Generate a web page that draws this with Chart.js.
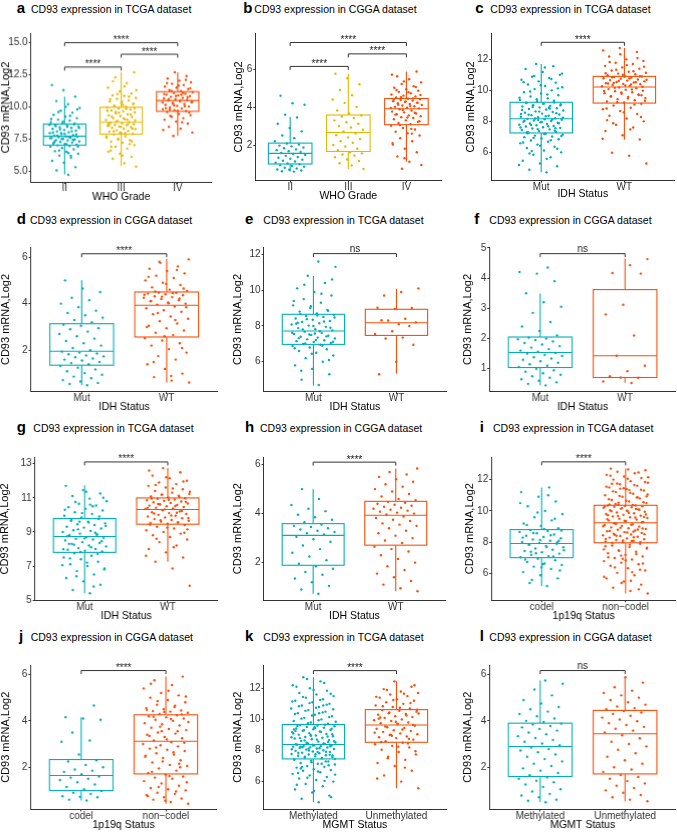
<!DOCTYPE html>
<html>
<head>
<meta charset="utf-8">
<script src="https://cdn.jsdelivr.net/npm/chart.js@4.4.1/dist/chart.umd.min.js"></script>
<style>
body{margin:0;background:#fff;width:677px;height:832px;overflow:hidden;position:relative;font-family:"Liberation Sans",Arial,sans-serif}
.box{position:absolute}
.lt{position:absolute;font-weight:bold;font-size:15px;line-height:15px;color:#000}
.tt{position:absolute;font-size:10.5px;line-height:12px;color:#000;white-space:nowrap}
</style>
</head>
<body>
<script>
// ---- data ----
// box stats per group: [lower whisker, q1, median, q3, upper whisker]
const catsA = ['II', 'III', 'IV'];
const boxA = [[4.73, 7.01, 7.71, 8.66, 10.8], [5.38, 7.87, 8.79, 9.97, 12.72], [7.74, 9.65, 10.49, 11.18, 12.7]];
const ptsA = [
  [4.7,5.05,5.3,5.65,5.8,6.05,6.2,6.35,6.5,6.55,6.7,6.8,6.9,6.95,7.0,7.05,7.12,7.15,7.22,7.26,7.3,7.38,7.41,7.46,7.5,7.57,7.6,7.63,7.67,7.7,7.76,7.8,7.88,7.95,8.02,8.08,8.15,8.2,8.28,8.36,8.41,8.48,8.55,8.6,8.64,8.72,8.8,8.93,9.0,9.12,9.24,9.38,9.55,9.7,9.92,10.2,10.45,10.8,11.3,11.7,
   6.2,6.6,6.9,7.1,7.3,7.4,7.5,7.55,7.65,7.75,7.85,7.9,8.0,8.1,8.25,8.35,8.45,8.5,8.7,8.85,9.05,9.3,9.6,9.8,10.0,7.2,7.45,7.95,8.6,6.4],
  [5.35,5.6,5.95,6.1,6.35,6.5,6.75,6.9,7.02,7.2,7.28,7.4,7.52,7.6,7.72,7.85,7.9,7.98,8.06,8.12,8.18,8.26,8.3,8.37,8.42,8.46,8.52,8.57,8.6,8.66,8.71,8.76,8.82,8.9,8.98,9.05,9.12,9.2,9.28,9.35,9.42,9.5,9.58,9.66,9.72,9.8,9.88,9.95,10.02,10.1,10.22,10.3,10.42,10.5,10.62,10.7,10.85,10.9,11.05,11.2,11.5,11.85,12.3,12.7,
   6.2,6.6,7.1,7.45,7.7,7.95,8.1,8.3,8.45,8.55,8.65,8.85,8.95,9.1,9.25,9.4,9.55,9.7,9.85,10.05,10.25,10.4,10.6,10.8,11.0,11.3,11.6,12.0,7.3,8.0,8.7,9.0,9.6,9.9,10.15,6.9],
  [7.74,8.0,8.3,8.45,8.7,8.85,9.0,9.12,9.22,9.35,9.45,9.6,9.68,9.74,9.82,9.88,9.96,10.02,10.08,10.16,10.22,10.3,10.36,10.44,10.5,10.54,10.6,10.66,10.7,10.78,10.84,10.9,10.96,11.02,11.08,11.15,11.22,11.3,11.38,11.5,11.58,11.7,11.8,11.92,12.05,12.2,12.4,12.7,
   8.2,8.8,9.3,9.55,9.7,9.9,10.05,10.25,10.4,10.5,10.6,10.75,10.85,11.0,11.1,11.25,11.45,11.65,11.85,12.1,10.1,10.35,10.95,9.8]
];
const sigA = [[1, 2, 13.1, '****'], [2, 3, 14.1, '****'], [1, 3, 15.0, '****']];
const yTicksA = [5, 7.5, 10, 12.5, 15];
const yLimA = [4.15, 15.75];

const catsB = ['II', 'III', 'IV'];
const boxB = [[0.6, 1.0, 1.56, 2.1, 3.47], [0.74, 1.66, 2.66, 3.58, 5.75], [1.12, 3.07, 3.91, 4.45, 5.87]];
const ptsB = [
  [0.6,0.62,0.66,0.7,0.71,0.76,0.8,0.86,0.9,0.94,0.98,1.03,1.07,1.13,1.17,1.23,1.27,1.33,1.37,1.43,1.47,1.53,1.58,1.63,1.67,1.73,1.77,1.83,1.87,1.93,1.97,2.03,2.08,2.2,2.36,2.5,2.72,2.9,3.12,3.45,3.6,4.12,4.2,4.6],
  [0.74,0.92,1.04,1.16,1.24,1.36,1.44,1.5,1.56,1.62,1.72,1.8,1.92,2.0,2.12,2.2,2.32,2.4,2.52,2.6,2.72,2.8,2.92,3.0,3.12,3.2,3.3,3.42,3.5,3.56,3.66,3.82,4.0,4.22,4.4,4.62,4.9,5.2,5.52,5.75],
  [0.75,0.95,1.12,1.4,1.62,1.8,2.02,2.2,2.36,2.5,2.62,2.7,2.82,2.9,3.02,3.1,3.16,3.22,3.3,3.36,3.42,3.46,3.52,3.56,3.62,3.66,3.72,3.76,3.82,3.88,3.93,3.96,4.01,4.04,4.08,4.11,4.16,4.2,4.23,4.27,4.31,4.34,4.37,4.41,4.44,4.5,4.56,4.6,4.66,4.72,4.8,4.86,4.94,5.02,5.1,5.22,5.3,5.46,5.62,5.87,
   1.3,2.1,2.6,3.05,3.25,3.45,3.6,3.7,3.85,3.95,4.05,4.12,4.22,4.3,4.38,4.45,4.52,4.64,4.78,4.9,5.05,5.35,5.7,2.85]
];
const sigB = [[1, 2, 6.14, '****'], [2, 3, 6.8, '****'], [1, 3, 7.4, '****']];
const yTicksB = [2, 4, 6];
const yLimB = [0.12, 7.9];

const catsC = ['Mut', 'WT'];
const boxC = [[4.73, 7.27, 8.19, 9.25, 11.72], [6.84, 9.2, 10.24, 10.92, 12.75]];
const ptsC = [
  [4.73,4.9,5.12,5.3,5.48,5.7,5.86,6.02,6.14,6.3,6.38,6.52,6.6,6.7,6.78,6.86,6.92,7.0,7.04,7.1,7.16,7.22,7.3,7.34,7.4,7.46,7.5,7.56,7.6,7.64,7.69,7.72,7.77,7.8,7.85,7.88,7.93,7.96,8.0,8.05,8.08,8.12,8.15,8.18,8.22,8.28,8.32,8.38,8.42,8.46,8.52,8.58,8.62,8.66,8.72,8.78,8.82,8.86,8.92,8.98,9.02,9.06,9.12,9.16,9.2,9.24,9.32,9.4,9.5,9.62,9.7,9.82,9.9,10.02,10.1,10.22,10.3,10.4,10.52,10.6,10.7,10.82,10.9,11.02,11.2,11.4,11.58,11.72,
   5.2,5.6,5.95,6.25,6.45,6.65,6.8,6.95,7.08,7.2,7.32,7.42,7.52,7.62,7.7,7.78,7.9,7.98,8.06,8.14,8.2,8.25,8.35,8.45,8.55,8.65,8.75,8.85,8.95,9.05,9.15,9.22,9.35,9.45,9.55,9.75,9.95,10.15,10.35,10.55,10.75,10.95,11.1,11.5,7.25,7.58,8.1,8.5,8.9,6.1],
  [5.3,5.8,6.0,6.85,7.12,7.4,7.62,7.8,8.02,8.2,8.38,8.5,8.68,8.8,8.9,9.04,9.15,9.24,9.3,9.38,9.45,9.52,9.6,9.64,9.72,9.8,9.84,9.9,9.96,10.0,10.06,10.1,10.16,10.21,10.28,10.31,10.36,10.41,10.44,10.48,10.53,10.56,10.6,10.65,10.68,10.72,10.77,10.8,10.84,10.88,10.91,10.95,11.0,11.06,11.1,11.16,11.22,11.3,11.42,11.5,11.6,11.72,11.8,11.92,12.02,12.2,12.5,12.75,
   6.9,7.5,7.9,8.3,8.6,8.85,9.1,9.25,9.35,9.5,9.62,9.75,9.88,9.98,10.08,10.18,10.25,10.34,10.46,10.55,10.62,10.7,10.78,10.86,10.93,11.03,11.12,11.25,11.35,11.55,11.65,11.85,12.1,12.35,12.6,10.4,10.5,9.7,10.9,8.1]
];
const sigC = [[1, 2, 13.12, '****']];
const yTicksC = [6, 8, 10, 12];
const yLimC = [4.19, 13.72];

const catsD = ['Mut', 'WT'];
const boxD = [[0.5, 1.36, 1.96, 3.14, 5.0], [0.62, 2.57, 3.93, 4.5, 5.93]];
const ptsD = [
  [0.5,0.55,0.6,0.66,0.72,0.8,0.87,0.95,1.02,1.1,1.18,1.25,1.32,1.4,1.45,1.5,1.56,1.6,1.65,1.7,1.74,1.78,1.83,1.86,1.9,1.94,2.0,2.1,2.2,2.3,2.4,2.5,2.6,2.7,2.8,2.9,2.95,3.05,3.1,3.2,3.3,3.4,3.5,3.6,3.7,3.85,4.0,4.15,4.25,4.5,4.65,5.0],
  [0.62,0.7,0.85,1.0,1.2,1.4,1.6,1.75,1.9,2.05,2.2,2.3,2.42,2.52,2.65,2.75,2.85,2.95,3.05,3.15,3.25,3.35,3.45,3.55,3.65,3.72,3.8,3.88,3.96,4.0,4.05,4.1,4.15,4.2,4.25,4.28,4.32,4.36,4.4,4.43,4.46,4.48,4.55,4.6,4.7,4.8,4.9,5.0,5.1,5.2,5.3,5.4,5.5,5.6,5.75,5.9,
   0.9,1.5,2.1,2.6,3.0,3.3,3.6,3.85,4.02,4.12,4.22,4.3,4.38,4.45,4.52,4.65,4.85,5.15,5.45,5.8]
];
const sigD = [[1, 2, 6.14, '****']];
const yTicksD = [2, 4, 6];
const yLimD = [0.21, 6.43];

const catsE = ['Mut', 'WT'];
const boxE = [[4.68, 6.97, 7.72, 8.65, 10.79], [5.33, 7.47, 8.18, 8.93, 10.08]];
const ptsE = [
  [4.7,5.0,5.3,5.6,5.8,6.0,6.2,6.35,6.5,6.6,6.7,6.8,6.88,6.95,7.0,7.05,7.1,7.15,7.2,7.25,7.3,7.35,7.4,7.45,7.5,7.55,7.6,7.68,7.75,7.82,7.88,7.95,8.02,8.08,8.15,8.22,8.28,8.35,8.42,8.5,8.56,8.62,8.7,8.8,8.9,9.0,9.15,9.3,9.5,9.7,9.9,10.1,10.4,10.8,11.3,11.6,
   5.5,6.1,6.45,6.75,6.9,7.02,7.12,7.22,7.32,7.42,7.52,7.62,7.7,7.8,7.9,8.0,8.12,8.25,8.38,8.47,8.58,8.66,8.85,9.1,9.4,9.8,10.3,10.6,7.58,8.18],
  [10.1,9.9,9.7,9.0,8.95,9.02,8.4,8.3,8.2,8.1,8.32,8.0,7.7,7.55,7.35,7.3,6.95,6.0,5.3]
];
const sigE = [[1, 2, 12.04, 'ns']];
const yTicksE = [6, 8, 10, 12];
const yLimE = [4.31, 12.41];

const catsF = ['Mut', 'WT'];
const boxF = [[0.45, 1.04, 1.54, 2.05, 3.49], [0.54, 0.71, 1.43, 3.62, 4.65]];
const ptsF = [
  [0.45,0.5,0.55,0.6,0.65,0.7,0.75,0.8,0.85,0.9,0.95,1.0,1.06,1.1,1.15,1.2,1.25,1.3,1.34,1.38,1.42,1.46,1.5,1.52,1.56,1.6,1.65,1.7,1.75,1.8,1.85,1.9,1.95,1.98,2.0,2.03,2.1,2.25,2.4,2.55,2.85,3.05,3.2,3.5,3.9,4.15,4.2,4.35],
  [4.63,4.43,4.17,4.15,3.12,2.8,2.1,1.43,1.1,0.92,0.75,0.7,0.71,0.58,0.53]
];
const sigF = [[1, 2, 4.81, 'ns']];
const yTicksF = [1, 2, 3, 4, 5];
const yLimF = [0.23, 5.03];

const catsG = ['Mut', 'WT'];
const boxG = [[5.4, 7.8, 8.73, 9.78, 11.73], [7.25, 9.45, 10.31, 10.99, 12.74]];
const ptsG = [
  [5.4,5.6,5.9,6.1,6.3,6.5,6.7,6.85,7.0,7.1,7.25,7.4,7.5,7.6,7.75,7.85,7.9,7.95,8.0,8.05,8.15,8.2,8.3,8.35,8.4,8.5,8.55,8.6,8.65,8.7,8.8,8.85,8.9,9.0,9.05,9.1,9.2,9.25,9.3,9.4,9.45,9.5,9.6,9.65,9.75,9.85,9.95,10.05,10.15,10.25,10.35,10.45,10.55,10.65,10.8,10.95,11.1,11.25,11.45,11.7,
   5.8,6.4,6.8,7.2,7.45,7.7,7.82,7.98,8.1,8.25,8.45,8.62,8.75,8.95,9.15,9.35,9.55,9.7,9.9,10.1,10.3,10.5,10.75,11.0,11.35,8.3,8.85,9.6,7.05,10.6],
  [5.84,6.86,7.25,7.5,7.8,8.0,8.2,8.4,8.55,8.7,8.8,8.9,9.0,9.1,9.2,9.3,9.4,9.48,9.52,9.56,9.6,9.65,9.7,9.75,9.8,9.85,9.9,9.95,10.0,10.05,10.1,10.15,10.2,10.27,10.34,10.38,10.42,10.46,10.5,10.54,10.58,10.62,10.66,10.7,10.74,10.78,10.82,10.86,10.9,10.94,10.97,11.02,11.07,11.12,11.17,11.22,11.3,11.4,11.5,11.6,11.7,11.8,11.9,12.0,12.15,12.3,12.5,12.74,
   7.6,8.1,8.6,8.95,9.25,9.42,9.55,9.68,9.82,9.96,10.08,10.22,10.32,10.4,10.52,10.64,10.76,10.88,10.96,11.05,11.2,11.35,11.55,11.75,11.95,12.2,12.6,10.12,10.6,9.15]
];
const sigG = [[1, 2, 13.1, '****']];
const yTicksG = [5, 7, 9, 11, 13];
const yLimG = [4.96, 13.39];

const catsH = ['Mut', 'WT'];
const boxH = [[0.73, 1.89, 3.11, 3.59, 4.99], [0.83, 2.71, 3.93, 4.5, 5.84]];
const ptsH = [
  [0.73,0.9,1.05,1.2,1.35,1.5,1.62,1.75,1.85,1.95,2.1,2.25,2.4,2.55,2.7,2.85,2.95,3.05,3.15,3.2,3.25,3.3,3.35,3.4,3.45,3.5,3.55,3.65,3.75,3.85,3.95,4.1,4.2,4.35,4.6,5.0],
  [0.83,0.95,1.1,1.25,1.4,1.55,1.7,1.85,2.0,2.15,2.3,2.45,2.55,2.65,2.8,2.9,3.0,3.1,3.2,3.3,3.4,3.5,3.55,3.6,3.7,3.75,3.82,3.88,3.96,4.0,4.04,4.08,4.12,4.16,4.2,4.24,4.28,4.32,4.36,4.4,4.44,4.48,4.55,4.6,4.7,4.8,4.9,5.0,5.1,5.2,5.3,5.4,5.5,5.6,5.7,5.84]
];
const sigH = [[1, 2, 6.1, '****']];
const yTicksH = [2, 4, 6];
const yLimH = [0.46, 6.31];

const catsI = ['codel', 'non\u2212codel'];
const boxI = [[5.21, 7.02, 7.92, 8.81, 11.49], [4.73, 7.97, 9.25, 10.36, 12.71]];
const ptsI = [
  [5.21,5.4,5.7,5.9,6.1,6.3,6.45,6.55,6.65,6.75,6.85,6.95,7.05,7.12,7.2,7.28,7.36,7.44,7.52,7.6,7.68,7.76,7.84,7.9,7.95,8.02,8.1,8.18,8.26,8.34,8.42,8.5,8.58,8.66,8.72,8.78,8.9,9.05,9.2,9.4,9.6,9.8,10.0,10.3,10.6,10.9,11.2,11.5,
   5.6,6.2,6.6,6.9,7.1,7.3,7.5,7.7,7.85,8.0,8.15,8.3,8.45,8.6,8.75,8.85,9.1,9.5,9.9,10.5,11.0,7.4,8.1,6.4],
  [4.73,4.9,5.1,5.3,5.5,5.7,5.9,6.05,6.2,6.35,6.5,6.6,6.7,6.8,6.9,7.0,7.1,7.2,7.3,7.4,7.5,7.6,7.7,7.8,7.9,8.0,8.05,8.1,8.15,8.2,8.25,8.3,8.35,8.4,8.45,8.5,8.55,8.6,8.65,8.7,8.75,8.8,8.85,8.9,8.95,9.0,9.05,9.1,9.15,9.2,9.3,9.35,9.4,9.45,9.5,9.55,9.6,9.65,9.7,9.75,9.8,9.85,9.9,9.95,10.0,10.05,10.1,10.15,10.2,10.24,10.27,10.3,10.32,10.34,10.35,10.42,10.5,10.6,10.7,10.8,10.9,11.0,11.1,11.2,11.3,11.4,11.5,11.6,11.7,11.8,11.9,12.0,12.1,12.2,12.3,12.4,12.5,12.6,12.65,12.7,
   5.0,5.4,5.8,6.1,6.4,6.65,6.85,7.05,7.25,7.45,7.65,7.85,7.95,8.02,8.12,8.22,8.32,8.42,8.52,8.62,8.72,8.82,8.92,9.02,9.12,9.22,9.28,9.38,9.48,9.58,9.68,9.78,9.88,9.98,10.08,10.18,10.28,10.38,10.45,10.55,10.65,10.75,10.85,10.95,11.05,11.15,11.25,11.35,11.45,11.55,11.65,11.75,11.85,12.05,12.25,12.45,7.15,7.55,8.08,8.48,8.88,9.33,9.73,10.13,10.53,10.93,11.33,11.73,6.25,6.95,7.75,8.68,9.18,9.62,10.02,10.42,10.88,11.42,12.15,5.55]
];
const sigI = [[1, 2, 13.13, '****']];
const yTicksI = [6, 8, 10, 12];
const yLimI = [4.3, 13.44];

const catsJ = ['codel', 'non\u2212codel'];
const boxJ = [[0.56, 0.99, 1.64, 2.33, 4.16], [0.42, 1.71, 3.12, 4.26, 5.91]];
const ptsJ = [
  [0.56,0.6,0.7,0.72,0.75,0.85,0.9,0.97,1.05,1.15,1.25,1.35,1.45,1.5,1.55,1.6,1.7,1.8,1.85,1.9,2.0,2.1,2.25,2.3,2.55,3.1,3.15,3.5,4.05,4.1,4.16,4.66],
  [0.42,0.5,0.6,0.65,0.7,0.8,0.85,0.9,1.0,1.05,1.1,1.2,1.3,1.4,1.5,1.55,1.6,1.68,1.75,1.85,1.95,2.05,2.1,2.2,2.3,2.4,2.5,2.55,2.6,2.7,2.75,2.8,2.9,2.95,3.0,3.08,3.15,3.25,3.3,3.4,3.45,3.5,3.6,3.65,3.7,3.8,3.85,3.9,4.0,4.05,4.1,4.15,4.2,4.24,4.3,4.35,4.4,4.42,4.45,4.5,4.55,4.6,4.7,4.8,4.9,5.0,5.1,5.2,5.4,5.55,5.75,5.91,
   0.55,0.75,0.95,1.15,1.35,1.62,1.8,2.0,2.25,2.45,2.65,2.85,3.05,3.2,3.35,3.55,3.75,3.95,4.08,4.18,4.28,4.38,4.48,4.65,4.85,5.05,5.3,5.6,2.15,3.55]
];
const sigJ = [[1, 2, 6.17, '****']];
const yTicksJ = [2, 4, 6];
const yLimJ = [0.17, 6.41];

const catsK = ['Methylated', 'Unmethylated'];
const boxK = [[4.67, 7.46, 8.39, 9.67, 12.71], [5.57, 8.53, 9.64, 10.63, 12.45]];
const ptsK = [
  [4.67,4.9,5.1,5.3,5.5,5.7,5.85,6.0,6.1,6.2,6.3,6.4,6.5,6.6,6.7,6.75,6.8,6.9,6.95,7.0,7.1,7.15,7.2,7.3,7.35,7.42,7.5,7.54,7.58,7.62,7.66,7.7,7.74,7.78,7.82,7.86,7.9,7.94,7.98,8.02,8.06,8.1,8.13,8.16,8.19,8.22,8.25,8.28,8.3,8.32,8.34,8.37,8.42,8.47,8.52,8.57,8.62,8.67,8.72,8.77,8.82,8.87,8.92,8.97,9.02,9.07,9.12,9.17,9.22,9.27,9.32,9.37,9.42,9.47,9.52,9.56,9.6,9.64,9.72,9.8,9.9,10.0,10.1,10.2,10.3,10.4,10.5,10.6,10.7,10.8,10.9,11.0,11.1,11.2,11.3,11.4,11.5,11.6,11.7,11.85,12.0,12.2,12.45,12.71,
   5.0,5.4,5.8,6.05,6.25,6.45,6.65,6.85,7.05,7.25,7.4,7.52,7.6,7.68,7.76,7.84,7.92,8.0,8.08,8.15,8.21,8.27,8.33,8.4,8.45,8.5,8.6,8.7,8.8,8.9,9.0,9.1,9.2,9.3,9.4,9.5,9.58,9.66,9.76,9.85,9.95,10.05,10.15,10.25,10.35,10.45,10.55,10.65,10.75,10.85,10.95,11.05,11.15,11.25,11.45,11.65,11.9,12.1,12.35,12.6,7.45,7.9,8.25,8.55,8.95,9.35,7.15,8.65,9.05,9.45,6.55,7.3,8.12,8.85,10.4,6.95,7.72,8.38,9.25,10.9],
  [5.57,6.0,6.4,6.7,7.0,7.2,7.4,7.6,7.75,7.9,8.05,8.2,8.3,8.4,8.5,8.6,8.7,8.8,8.85,8.9,9.0,9.05,9.1,9.2,9.25,9.3,9.4,9.45,9.5,9.6,9.7,9.75,9.8,9.9,9.95,10.0,10.1,10.15,10.2,10.3,10.35,10.4,10.5,10.55,10.6,10.7,10.8,10.9,11.0,11.1,11.2,11.3,11.4,11.5,11.6,11.7,11.8,11.95,12.1,12.45,
   6.2,6.9,7.5,7.95,8.25,8.55,8.75,8.95,9.15,9.35,9.55,9.65,9.85,10.05,10.25,10.45,10.62,10.75,10.85,11.05,11.25,11.45,11.65,11.9,12.2,9.72,10.12,8.45,9.02,10.38]
];
const sigK = [[1, 2, 13.14, '****']];
const yTicksK = [6, 8, 10, 12];
const yLimK = [4.2, 13.5];

const catsL = ['Methylated', 'Unmethylated'];
const boxL = [[0.49, 1.6, 2.89, 3.9, 5.74], [0.53, 1.71, 3.44, 4.45, 5.88]];
const ptsL = [
  [0.49,0.55,0.6,0.7,0.78,0.85,0.95,1.05,1.15,1.25,1.35,1.42,1.5,1.56,1.65,1.75,1.85,1.95,2.05,2.15,2.25,2.35,2.45,2.55,2.65,2.72,2.78,2.85,2.95,3.02,3.1,3.18,3.26,3.34,3.42,3.5,3.58,3.65,3.72,3.78,3.84,3.88,3.95,4.0,4.1,4.2,4.3,4.4,4.5,4.6,4.75,4.9,5.1,5.35,5.6,5.74],
  [0.53,0.6,0.7,0.8,0.9,1.0,1.1,1.2,1.3,1.4,1.5,1.58,1.66,1.8,1.9,2.0,2.15,2.3,2.45,2.6,2.75,2.9,3.0,3.1,3.25,3.38,3.5,3.58,3.66,3.74,3.82,3.9,3.98,4.06,4.14,4.22,4.3,4.36,4.42,4.5,4.55,4.62,4.7,4.8,4.9,5.0,5.1,5.2,5.3,5.45,5.65,5.88]
];
const sigL = [[1, 2, 6.17, 'ns']];
const yTicksL = [2, 4, 6];
const yLimL = [0.17, 6.41];

// ---- look ----
const teal = '#00AFBB', gold = '#E7B800', red = '#FC4E07';
const FONT = '"Liberation Sans", Arial, sans-serif';
Chart.defaults.font.family = FONT;

const panels = [
  {k:'a', ds:'TCGA', cats:catsA, box:boxA, pts:ptsA, sig:sigA, yt:yTicksA, lim:yLimA, xl:'WHO Grade', col:[teal,gold,red], L:31, R:211, T:33, B:181, ytx:6, xty:196.6, lx:16.7, tx:31, base:13},
  {k:'b', ds:'CGGA', cats:catsB, box:boxB, pts:ptsB, sig:sigB, yt:yTicksB, lim:yLimB, xl:'WHO Grade', col:[teal,gold,red], L:255, R:441, T:33.3, B:181, ytx:238.3, xty:196, lx:243.3, tx:254.3, base:13},
  {k:'c', ds:'TCGA', cats:catsC, box:boxC, pts:ptsC, sig:sigC, yt:yTicksC, lim:yLimC, xl:'IDH Status', col:[teal,red], L:491, R:674, T:33.3, B:181, ytx:470.3, xty:194, lx:475.3, tx:490.3, base:13},
  {k:'d', ds:'CGGA', cats:catsD, box:boxD, pts:ptsD, sig:sigD, yt:yTicksD, lim:yLimD, xl:'IDH Status', col:[teal,red], L:31, R:217, T:246.7, B:391.7, ytx:6, xty:407.1, lx:16.7, tx:30, base:224},
  {k:'e', ds:'TCGA', cats:catsE, box:boxE, pts:ptsE, sig:sigE, yt:yTicksE, lim:yLimE, xl:'IDH Status', col:[teal,red], L:263.3, R:446, T:246.7, B:391.7, ytx:237.3, xty:407.1, lx:245, tx:263.3, base:224},
  {k:'f', ds:'CGGA', cats:catsF, box:boxF, pts:ptsF, sig:sigF, yt:yTicksF, lim:yLimF, xl:'IDH Status', col:[teal,red], L:489.3, R:675, T:246.7, B:391.7, ytx:467.7, xty:407.1, lx:474.3, tx:489.3, base:224},
  {k:'g', ds:'TCGA', cats:catsG, box:boxG, pts:ptsG, sig:sigG, yt:yTicksG, lim:yLimG, xl:'IDH Status', col:[teal,red], L:35, R:217, T:456.7, B:600.5, ytx:5, xty:615.8, lx:16.7, tx:33.3, base:431.7},
  {k:'h', ds:'CGGA', cats:catsH, box:boxH, pts:ptsH, sig:sigH, yt:yTicksH, lim:yLimH, xl:'IDH Status', col:[teal,red], L:263.3, R:445, T:456.7, B:600, ytx:237.3, xty:615.8, lx:245, tx:260, base:431.7},
  {k:'i', ds:'TCGA', cats:catsI, box:boxI, pts:ptsI, sig:sigI, yt:yTicksI, lim:yLimI, xl:'1p19q Status', col:[teal,red], L:491.3, R:675, T:456.7, B:600, ytx:469.7, xty:615.8, lx:479.7, tx:493, base:431.7},
  {k:'j', ds:'CGGA', cats:catsJ, box:boxJ, pts:ptsJ, sig:sigJ, yt:yTicksJ, lim:yLimJ, xl:'1p19q Status', col:[teal,red], L:30.7, R:216, T:664.7, B:809.3, ytx:6, xty:824.7, lx:19, tx:30.7, base:640.3},
  {k:'k', ds:'TCGA', cats:catsK, box:boxK, pts:ptsK, sig:sigK, yt:yTicksK, lim:yLimK, xl:'MGMT Status', col:[teal,red], L:263.3, R:446, T:664.7, B:809.3, ytx:237.3, xty:824.7, lx:245, tx:263.3, base:640.3},
  {k:'l', ds:'CGGA', cats:catsL, box:boxL, pts:ptsL, sig:sigL, yt:yTicksL, lim:yLimL, xl:'MGMT Status', col:[teal,red], L:489.3, R:675, T:664.7, B:809.3, ytx:467.7, xty:824.7, lx:479.7, tx:489.3, base:640.3}
];

// boxes under the points, significance brackets on top
function boxPlugin(p) {
  return {
    id: 'boxes',
    beforeDatasetsDraw(chart) {
      const ctx = chart.ctx, x = chart.scales.x, y = chart.scales.y;
      p.box.forEach((s, i) => {
        const c = i + 1;
        const x0 = x.getPixelForValue(c - 0.375), x1 = x.getPixelForValue(c + 0.375), xc = x.getPixelForValue(c);
        const [lo, q1, md, q3, hi] = s.map(v => y.getPixelForValue(v));
        ctx.save();
        ctx.strokeStyle = p.col[i];
        ctx.lineWidth = 1.1;
        ctx.beginPath();
        ctx.moveTo(xc, lo); ctx.lineTo(xc, q1);
        ctx.moveTo(xc, q3); ctx.lineTo(xc, hi);
        ctx.stroke();
        ctx.fillStyle = '#fff';
        ctx.fillRect(x0, q3, x1 - x0, q1 - q3);
        ctx.strokeRect(x0, q3, x1 - x0, q1 - q3);
        ctx.beginPath();
        ctx.moveTo(x0, md); ctx.lineTo(x1, md);
        ctx.stroke();
        ctx.restore();
      });
    },
    afterDatasetsDraw(chart) {
      const ctx = chart.ctx, x = chart.scales.x, y = chart.scales.y;
      p.sig.forEach(([a, b, v, lab]) => {
        const xa = x.getPixelForValue(a), xb = x.getPixelForValue(b), yy = y.getPixelForValue(v);
        ctx.save();
        ctx.strokeStyle = '#333';
        ctx.lineWidth = 1;
        ctx.beginPath();
        ctx.moveTo(xa, yy + 3.5); ctx.lineTo(xa, yy); ctx.lineTo(xb, yy); ctx.lineTo(xb, yy + 3.5);
        ctx.stroke();
        ctx.fillStyle = '#222';
        ctx.textAlign = 'center';
        ctx.textBaseline = 'alphabetic';
        ctx.font = '10px ' + FONT;
        ctx.fillText(lab, (xa + xb) / 2, lab === 'ns' ? yy - 2 : yy + 0.5);
        ctx.restore();
      });
    }
  };
}

function drawPanel(p) {
  const lt = document.createElement('div');
  lt.className = 'lt'; lt.textContent = p.k;
  lt.style.left = p.lx + 'px'; lt.style.top = (p.base - 12.7) + 'px';
  document.body.appendChild(lt);
  const tt = document.createElement('div');
  tt.className = 'tt'; tt.textContent = 'CD93 expression in ' + p.ds + ' dataset';
  tt.style.left = p.tx + 'px'; tt.style.top = (p.base - 9.6) + 'px';
  document.body.appendChild(tt);

  const left = p.ytx - 6.6, top = p.T - 10, right = p.R + 3, bottom = p.xty + 6.3;
  const div = document.createElement('div');
  div.className = 'box';
  div.style.left = left + 'px'; div.style.top = top + 'px';
  div.style.width = (right - left) + 'px'; div.style.height = (bottom - top) + 'px';
  const cv = document.createElement('canvas');
  div.appendChild(cv);
  document.body.appendChild(div);
  const yW = p.L - left, xH = bottom - p.B;
  const dec = p.yt.some(v => v % 1 !== 0);

  const datasets = p.pts.map((vals, g) => ({
    data: vals.map((v, i) => ({x: g + 1 + (((i + 1) * 0.618034 + g * 0.37) % 1 - 0.5) * 0.54, y: v})),
    backgroundColor: p.col[g],
    pointRadius: 1.2,
    pointHoverRadius: 0,
    borderWidth: 0
  }));

  new Chart(cv, {
    type: 'scatter',
    data: {datasets},
    plugins: [boxPlugin(p)],
    options: {
      responsive: true,
      maintainAspectRatio: false,
      animation: false,
      events: [],
      layout: {padding: {top: 10, right: 3, left: 0, bottom: 0}},
      plugins: {legend: {display: false}, tooltip: {enabled: false}},
      scales: {
        x: {
          type: 'linear',
          min: 0.4,
          max: p.cats.length + 0.6,
          afterBuildTicks: s => { s.ticks = p.cats.map((c, i) => ({value: i + 1})); },
          afterFit: s => { s.height = xH; },
          ticks: {callback: v => p.cats[v - 1], color: '#333', font: {size: 10, weight: 'normal'}, padding: -1.5, maxRotation: 0, autoSkip: false},
          grid: {display: true, drawOnChartArea: false, drawTicks: true, tickLength: 2, color: '#333'},
          border: {display: true, color: '#333', width: 1},
          title: {display: true, text: p.xl, color: '#000', font: {size: 10.5, weight: 'normal'}, padding: 0}
        },
        y: {
          min: p.lim[0],
          max: p.lim[1],
          afterBuildTicks: s => { s.ticks = p.yt.map(v => ({value: v})); },
          afterFit: s => { s.width = yW; },
          ticks: {callback: v => dec ? v.toFixed(1) : String(v), color: '#333', font: {size: 10, weight: 'normal'}, padding: 1},
          grid: {display: true, drawOnChartArea: false, drawTicks: true, tickLength: 2, color: '#333'},
          border: {display: true, color: '#333', width: 1},
          title: {display: true, text: 'CD93 mRNA,Log2', color: '#000', font: {size: 11, weight: 'normal'}, padding: 0}
        }
      }
    }
  });
}

panels.forEach(drawPanel);
</script>
</body>
</html>
